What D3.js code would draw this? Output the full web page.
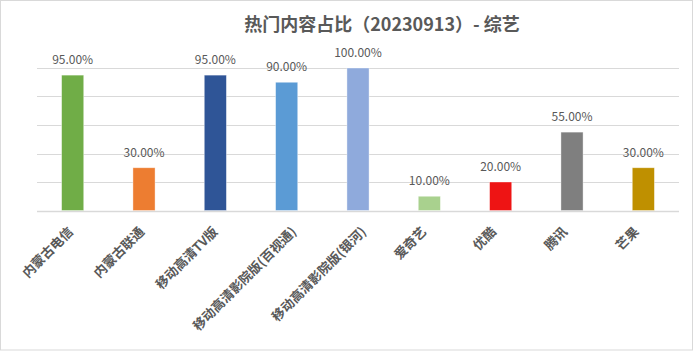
<!DOCTYPE html>
<html>
<head>
<meta charset="utf-8">
<script src="https://cdn.jsdelivr.net/npm/d3@7"></script>
<style>
  body { margin: 0; background: #fff; }
  text { font-family: "Noto Sans CJK SC", "Noto Sans", sans-serif; }
</style>
</head>
<body>
<div id="chart"></div>
<script>
// Chart data
const categories = ["内蒙古电信", "内蒙古联通", "移动高清TV版", "移动高清影院版(百视通)", "移动高清影院版(银河)", "爱奇艺", "优酷", "腾讯", "芒果"];
const values = [0.95, 0.30, 0.95, 0.90, 1.00, 0.10, 0.20, 0.55, 0.30];
const colors = ["#70ad47", "#ed7d31", "#2f5597", "#5b9bd5", "#8faadc", "#a9d18e", "#ee1414", "#7f7f7f", "#bf9000"];
const yTicks = [0, 0.2, 0.4, 0.6, 0.8, 1.0];
const title = "热门内容占比（20230913）- 综艺";

const W = 695, H = 351;
const margin = { top: 68, right: 16, bottom: 140.5, left: 37 };
const width = W - margin.left - margin.right;
const height = H - margin.top - margin.bottom;

const svg = d3.select("#chart")
    .append("svg")
    .attr("width", W)
    .attr("height", H);

// outer frame
svg.append("rect")
    .attr("x", 0.5).attr("y", 0.5)
    .attr("width", 692).attr("height", 349.5)
    .attr("fill", "#fff")
    .attr("stroke", "#d9d9d9");

// title
svg.append("text")
    .attr("x", 382)
    .attr("y", 31)
    .attr("text-anchor", "middle")
    .attr("font-size", 18)
    .attr("font-weight", "bold")
    .attr("fill", "#595959")
    .text(title);

const g = svg.append("g")
    .attr("transform", `translate(${margin.left}, ${margin.top})`);

// scales
const x = d3.scaleBand()
    .domain(categories)
    .range([0, width])
    .paddingInner(0.69)
    .paddingOuter(0.345);

const y = d3.scaleLinear()
    .domain([0, 1])
    .range([height, 0]);

// gridlines
g.selectAll(".grid")
    .data(yTicks)
    .enter().append("line")
    .attr("x1", 0)
    .attr("x2", width)
    .attr("y1", d => Math.round(y(d)) + 0.5)
    .attr("y2", d => Math.round(y(d)) + 0.5)
    .attr("stroke", "#d9d9d9")
    .attr("stroke-width", d => d === 0 ? 1.5 : 1);

// bars
g.selectAll(".bar")
    .data(values)
    .enter().append("rect")
    .attr("x", (d, i) => x(categories[i]))
    .attr("y", d => y(d))
    .attr("width", x.bandwidth())
    .attr("height", d => height - y(d))
    .attr("fill", (d, i) => colors[i])
    .attr("stroke", "#fff")
    .attr("stroke-opacity", 0.5)
    .attr("stroke-width", 0.75);

// value labels
g.selectAll(".val")
    .data(values)
    .enter().append("text")
    .attr("x", (d, i) => x(categories[i]) + x.bandwidth() / 2)
    .attr("y", d => y(d) - 11)
    .attr("text-anchor", "middle")
    .attr("font-size", 12)
    .attr("font-family", "'Open Sans', sans-serif")
    .attr("fill", "#595959")
    .text(d => (d * 100).toFixed(2) + "%");

// x axis labels (rotated, longer labels sit a bit further right like Excel does)
g.selectAll(".xlab")
    .data(categories)
    .enter().append("text")
    .attr("text-anchor", "end")
    .attr("font-size", 13)
    .attr("font-weight", "bold")
    .attr("fill", "#595959")
    .text(d => d)
    .attr("transform", function (d) {
        const len = this.getComputedTextLength();
        const cx = x(d) + x.bandwidth() / 2 - 7 + 0.126 * len;
        return `translate(${cx}, ${height + 22}) rotate(-45)`;
    });
</script>
</body>
</html>
